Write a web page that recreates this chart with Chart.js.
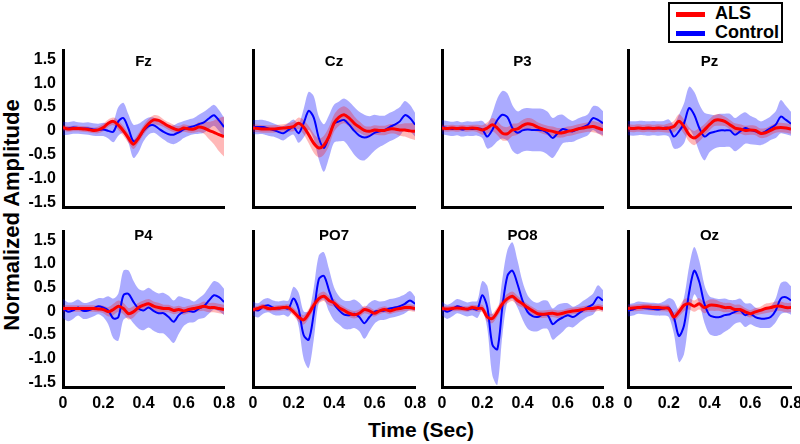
<!DOCTYPE html>
<html>
<head>
<meta charset="utf-8">
<script src="https://cdn.jsdelivr.net/npm/chart.js@4.4.1/dist/chart.umd.min.js"></script>
<style>
  body { margin: 0; background: #fff; }
  #wrap { position: relative; width: 800px; height: 444px; overflow: hidden;
          font-family: "Liberation Sans", Arial, sans-serif; font-weight: bold; color: #000; }
  #wrap canvas { position: absolute; }
  #ylab { position: absolute; left: 12px; top: 215px; font-size: 22px; white-space: nowrap;
          transform: translate(-50%, -50%) rotate(-90deg); }
  #xlab { position: absolute; left: 421px; top: 430px; font-size: 21px; white-space: nowrap;
          transform: translate(-50%, -50%); }
  #legend { position: absolute; left: 668px; top: 2px; width: 111px; height: 37px;
            border: 2px solid #000; background: #fff; font-size: 18px; }
  #legend .item { height: 19px; line-height: 19px; white-space: nowrap; }
  #legend .swatch { display: inline-block; width: 29px; height: 5px; margin: 0 10px 0 6px;
                    vertical-align: middle; }
</style>
</head>
<body>
<div id="wrap">
  <div id="ylab">Normalized Amplitude</div>
  <div id="xlab">Time (Sec)</div>
  <div id="legend">
    <div class="item"><span class="swatch" style="background:#ff0000"></span>ALS</div>
    <div class="item"><span class="swatch" style="background:#0000ff"></span>Control</div>
  </div>
</div>
<script>
/*************************
 DATA
**************************/
const time = [0, 0.025, 0.05, 0.075, 0.1, 0.125, 0.15, 0.175, 0.2, 0.225, 0.25,
  0.275, 0.3, 0.325, 0.35, 0.375, 0.4, 0.425, 0.45, 0.475, 0.5, 0.525,
  0.55, 0.575, 0.6, 0.625, 0.65, 0.675, 0.7, 0.725, 0.75, 0.775, 0.8];

const xTicks = [0, 0.2, 0.4, 0.6, 0.8];
const xTickLabels = ["0", "0.2", "0.4", "0.6", "0.8"];
const yTicks = [-1.5, -1, -0.5, 0, 0.5, 1, 1.5];
const yTickLabels = ["-1.5", "-1.0", "-0.5", "0", "0.5", "1.0", "1.5"];

const channels = ["Fz", "Cz", "P3", "Pz", "P4", "PO7", "PO8", "Oz"];

// Fz
const fzCtl = [0.05, 0.05, 0.07, 0.06, 0.05, 0.05, 0.03, 0.02, 0.03, 0.00, -0.02,
  0.20, 0.27, 0.05, -0.22, -0.15, 0.00, 0.10, 0.12, 0.05, -0.02, -0.07,
  -0.08, -0.03, 0.03, 0.07, 0.10, 0.14, 0.18, 0.26, 0.33, 0.22, 0.08];
const fzCtlSd = [0.14, 0.13, 0.13, 0.12, 0.12, 0.13, 0.13, 0.13, 0.14, 0.16, 0.22,
  0.30, 0.32, 0.30, 0.35, 0.30, 0.22, 0.18, 0.16, 0.15, 0.16, 0.18,
  0.20, 0.20, 0.18, 0.17, 0.17, 0.20, 0.22, 0.22, 0.22, 0.22, 0.20];
const fzAls = [0.07, 0.04, 0.05, 0.05, 0.04, 0.03, 0.01, 0.02, 0.07, 0.16, 0.20,
  0.12, 0.00, -0.15, -0.28, -0.15, 0.02, 0.15, 0.23, 0.22, 0.16, 0.10,
  0.05, 0.02, 0.06, 0.04, 0.04, 0.08, 0.06, 0.01, -0.03, -0.08, -0.12];
const fzAlsSd = [0.06, 0.06, 0.06, 0.06, 0.06, 0.06, 0.06, 0.07, 0.08, 0.08, 0.08,
  0.10, 0.10, 0.10, 0.10, 0.10, 0.10, 0.10, 0.10, 0.10, 0.08, 0.08,
  0.08, 0.08, 0.08, 0.08, 0.08, 0.10, 0.12, 0.18, 0.25, 0.35, 0.42];

// Cz
const czCtl = [0.08, 0.08, 0.08, 0.05, 0.02, -0.02, -0.05, 0.02, 0.08, -0.05, 0.16,
  0.42, 0.28, -0.15, -0.36, -0.12, 0.15, 0.20, 0.23, 0.13, 0.00, -0.10,
  -0.14, -0.11, -0.04, -0.01, 0.02, 0.08, 0.13, 0.20, 0.33, 0.27, 0.13];
const czCtlSd = [0.15, 0.15, 0.15, 0.15, 0.14, 0.14, 0.15, 0.15, 0.16, 0.20, 0.30,
  0.40, 0.45, 0.45, 0.50, 0.45, 0.40, 0.42, 0.45, 0.48, 0.50, 0.50,
  0.48, 0.42, 0.38, 0.33, 0.30, 0.30, 0.30, 0.30, 0.30, 0.28, 0.25];
const czAls = [0.06, 0.05, 0.04, 0.04, 0.04, 0.05, 0.06, 0.07, 0.09, 0.16, 0.08,
  -0.08, -0.26, -0.36, -0.30, -0.12, 0.16, 0.29, 0.34, 0.27, 0.16, 0.08,
  0.01, -0.01, 0.02, 0.01, 0.01, 0.04, 0.04, 0.02, 0.02, 0.00, -0.01];
const czAlsSd = [0.08, 0.08, 0.08, 0.08, 0.08, 0.08, 0.08, 0.09, 0.10, 0.12, 0.15,
  0.18, 0.20, 0.20, 0.20, 0.20, 0.18, 0.18, 0.18, 0.18, 0.15, 0.12,
  0.10, 0.10, 0.10, 0.10, 0.10, 0.10, 0.10, 0.12, 0.14, 0.16, 0.18];

// P3
const p3Ctl = [0.08, 0.06, 0.04, 0.06, 0.03, 0.05, 0.04, 0.05, 0.03, -0.12, 0.02,
  0.23, 0.34, 0.29, 0.06, -0.04, 0.01, 0.03, 0.02, 0.02, 0.01, -0.05,
  -0.15, -0.05, 0.04, 0.01, -0.01, 0.04, 0.08, 0.13, 0.27, 0.23, 0.16];
const p3CtlSd = [0.15, 0.15, 0.15, 0.15, 0.15, 0.15, 0.15, 0.15, 0.18, 0.25, 0.35,
  0.45, 0.50, 0.50, 0.48, 0.45, 0.45, 0.45, 0.45, 0.45, 0.45, 0.45,
  0.42, 0.38, 0.30, 0.25, 0.22, 0.22, 0.22, 0.22, 0.25, 0.28, 0.25];
const p3Als = [0.06, 0.05, 0.06, 0.05, 0.06, 0.05, 0.06, 0.05, 0.02, 0.06, 0.13,
  0.06, -0.05, -0.06, 0.02, 0.04, 0.11, 0.15, 0.13, 0.08, 0.04, 0.01,
  -0.01, -0.04, -0.04, -0.01, 0.01, 0.04, 0.06, 0.08, 0.09, 0.06, 0.02];
const p3AlsSd = [0.07, 0.07, 0.07, 0.07, 0.07, 0.07, 0.07, 0.08, 0.10, 0.12, 0.14,
  0.15, 0.15, 0.14, 0.13, 0.12, 0.12, 0.12, 0.12, 0.10, 0.10, 0.10,
  0.10, 0.10, 0.10, 0.10, 0.10, 0.10, 0.10, 0.10, 0.12, 0.12, 0.14];

// Pz
const pzCtl = [0.06, 0.05, 0.06, 0.06, 0.05, 0.06, 0.05, 0.06, 0.06, -0.12, -0.01,
  0.16, 0.48, 0.34, 0.06, -0.12, -0.05, -0.02, 0.01, 0.01, 0.01, -0.08,
  -0.01, 0.06, 0.02, -0.01, -0.05, -0.01, 0.06, 0.13, 0.30, 0.23, 0.15];
const pzCtlSd = [0.15, 0.15, 0.15, 0.15, 0.15, 0.15, 0.15, 0.15, 0.18, 0.25, 0.35,
  0.42, 0.45, 0.48, 0.50, 0.50, 0.40, 0.35, 0.35, 0.35, 0.35, 0.35,
  0.35, 0.33, 0.30, 0.28, 0.25, 0.25, 0.25, 0.28, 0.35, 0.30, 0.25];
const pzAls = [0.06, 0.05, 0.06, 0.05, 0.06, 0.05, 0.06, 0.05, 0.06, 0.09, 0.20,
  0.09, -0.08, -0.15, -0.08, 0.02, 0.13, 0.22, 0.23, 0.20, 0.13, 0.06,
  0.04, 0.01, 0.02, 0.01, -0.05, -0.04, 0.01, 0.06, 0.07, 0.06, 0.04];
const pzAlsSd = [0.08, 0.08, 0.08, 0.08, 0.08, 0.08, 0.08, 0.08, 0.10, 0.12, 0.15,
  0.15, 0.15, 0.15, 0.14, 0.12, 0.12, 0.12, 0.12, 0.10, 0.10, 0.10,
  0.10, 0.10, 0.10, 0.10, 0.10, 0.10, 0.10, 0.10, 0.10, 0.10, 0.10];

// P4
const p4Ctl = [0.06, -0.01, 0.02, 0.08, 0.01, 0.02, 0.06, 0.11, 0.08, 0.02, -0.15,
  -0.12, 0.34, 0.37, 0.20, 0.06, 0.02, 0.08, 0.01, -0.04, -0.04, -0.12,
  -0.22, -0.08, -0.01, 0.01, -0.01, 0.06, 0.11, 0.23, 0.34, 0.30, 0.20];
const p4CtlSd = [0.20, 0.20, 0.18, 0.17, 0.17, 0.17, 0.17, 0.17, 0.20, 0.30, 0.42,
  0.50, 0.52, 0.50, 0.45, 0.42, 0.42, 0.42, 0.42, 0.42, 0.43, 0.45,
  0.45, 0.40, 0.30, 0.25, 0.22, 0.22, 0.25, 0.28, 0.30, 0.30, 0.28];
const p4Als = [0.06, 0.06, 0.06, 0.06, 0.06, 0.06, 0.06, 0.05, 0.04, -0.01, 0.04,
  0.11, 0.06, -0.05, -0.01, 0.08, 0.13, 0.16, 0.11, 0.08, 0.06, 0.06,
  0.02, 0.04, 0.01, 0.04, 0.06, 0.08, 0.11, 0.08, 0.08, 0.06, 0.04];
const p4AlsSd = [0.07, 0.07, 0.07, 0.07, 0.07, 0.07, 0.07, 0.07, 0.08, 0.10, 0.12,
  0.12, 0.12, 0.12, 0.12, 0.10, 0.10, 0.10, 0.10, 0.10, 0.08, 0.08,
  0.08, 0.08, 0.08, 0.08, 0.08, 0.08, 0.10, 0.10, 0.10, 0.10, 0.10];

// PO7
const po7Ctl = [0.06, 0.02, 0.10, 0.13, 0.08, 0.06, 0.08, 0.06, 0.27, 0.05, -0.50,
  -0.60, -0.05, 0.68, 0.75, 0.45, 0.16, 0.02, -0.07, -0.08, -0.05, -0.12,
  -0.25, -0.12, -0.01, 0.01, 0.02, 0.06, 0.08, 0.11, 0.16, 0.23, 0.16];
const po7CtlSd = [0.15, 0.15, 0.15, 0.15, 0.15, 0.15, 0.15, 0.17, 0.25, 0.35, 0.50,
  0.60, 0.55, 0.50, 0.50, 0.45, 0.35, 0.30, 0.30, 0.30, 0.30, 0.30,
  0.33, 0.30, 0.25, 0.20, 0.20, 0.20, 0.20, 0.20, 0.20, 0.20, 0.15];
const po7Als = [0.04, 0.06, 0.10, 0.06, 0.06, 0.07, 0.08, 0.08, -0.01, -0.12, -0.18,
  -0.05, 0.13, 0.27, 0.32, 0.23, 0.18, 0.08, 0.02, -0.04, -0.07, -0.04,
  0.04, 0.01, -0.04, 0.01, 0.04, 0.01, 0.04, 0.06, 0.08, 0.08, 0.06];
const po7AlsSd = [0.06, 0.06, 0.06, 0.06, 0.06, 0.06, 0.06, 0.07, 0.08, 0.10, 0.10,
  0.10, 0.10, 0.10, 0.10, 0.10, 0.08, 0.08, 0.08, 0.08, 0.08, 0.08,
  0.08, 0.08, 0.07, 0.07, 0.07, 0.07, 0.07, 0.07, 0.07, 0.07, 0.07];

// PO8
const po8Ctl = [0.06, -0.01, 0.04, 0.11, 0.08, 0.04, 0.06, 0.04, 0.34, 0.09, -0.70,
  -0.80, 0.09, 0.75, 0.86, 0.58, 0.23, -0.01, -0.10, -0.12, -0.07, -0.08,
  -0.27, -0.19, -0.13, -0.08, -0.12, -0.06, 0.02, 0.09, 0.15, 0.30, 0.23];
const po8CtlSd = [0.15, 0.15, 0.15, 0.15, 0.15, 0.15, 0.15, 0.18, 0.30, 0.45, 0.65,
  0.75, 0.60, 0.55, 0.60, 0.50, 0.40, 0.35, 0.32, 0.30, 0.30, 0.30,
  0.33, 0.33, 0.30, 0.25, 0.22, 0.20, 0.20, 0.20, 0.22, 0.25, 0.22];
const po8Als = [0.06, 0.05, 0.06, 0.07, 0.06, 0.05, 0.08, 0.06, 0.06, -0.12, -0.15,
  -0.01, 0.16, 0.27, 0.32, 0.23, 0.16, 0.08, 0.01, -0.05, -0.06, -0.05,
  -0.04, -0.06, -0.04, -0.01, 0.01, 0.02, 0.04, 0.06, 0.06, 0.08, 0.06];
const po8AlsSd = [0.06, 0.06, 0.06, 0.06, 0.06, 0.06, 0.06, 0.07, 0.08, 0.10, 0.10,
  0.10, 0.10, 0.10, 0.10, 0.10, 0.08, 0.08, 0.08, 0.08, 0.08, 0.08,
  0.08, 0.08, 0.07, 0.07, 0.07, 0.07, 0.07, 0.07, 0.07, 0.07, 0.07];

// Oz
const ozCtl = [0.02, 0.04, 0.08, 0.07, 0.06, 0.05, 0.04, 0.06, 0.08, -0.12, -0.52,
  -0.30, 0.40, 0.86, 0.62, 0.16, -0.08, -0.12, -0.12, -0.08, -0.06, -0.01,
  0.02, -0.08, -0.05, -0.12, -0.15, -0.15, -0.12, 0.02, 0.27, 0.30, 0.23];
const ozCtlSd = [0.13, 0.13, 0.13, 0.13, 0.13, 0.13, 0.13, 0.15, 0.20, 0.35, 0.55,
  0.60, 0.55, 0.50, 0.45, 0.40, 0.40, 0.40, 0.38, 0.35, 0.30, 0.25,
  0.25, 0.25, 0.22, 0.20, 0.20, 0.20, 0.22, 0.25, 0.33, 0.33, 0.30];
const ozAls = [0.06, 0.07, 0.08, 0.09, 0.09, 0.08, 0.08, 0.07, 0.06, -0.12, -0.01,
  0.13, 0.16, 0.11, 0.16, 0.08, 0.13, 0.13, 0.11, 0.08, 0.08, 0.04,
  0.04, -0.01, -0.05, -0.01, 0.02, 0.06, 0.08, 0.11, 0.11, 0.08, 0.08];
const ozAlsSd = [0.07, 0.07, 0.07, 0.07, 0.07, 0.07, 0.07, 0.07, 0.08, 0.10, 0.10,
  0.12, 0.12, 0.12, 0.12, 0.12, 0.12, 0.12, 0.10, 0.10, 0.10, 0.10,
  0.10, 0.08, 0.08, 0.08, 0.08, 0.10, 0.10, 0.10, 0.10, 0.10, 0.10];

const panels = [
  { ctl: fzCtl, ctlSd: fzCtlSd, als: fzAls, alsSd: fzAlsSd },
  { ctl: czCtl, ctlSd: czCtlSd, als: czAls, alsSd: czAlsSd },
  { ctl: p3Ctl, ctlSd: p3CtlSd, als: p3Als, alsSd: p3AlsSd },
  { ctl: pzCtl, ctlSd: pzCtlSd, als: pzAls, alsSd: pzAlsSd },
  { ctl: p4Ctl, ctlSd: p4CtlSd, als: p4Als, alsSd: p4AlsSd },
  { ctl: po7Ctl, ctlSd: po7CtlSd, als: po7Als, alsSd: po7AlsSd },
  { ctl: po8Ctl, ctlSd: po8CtlSd, als: po8Als, alsSd: po8AlsSd },
  { ctl: ozCtl, ctlSd: ozCtlSd, als: ozAls, alsSd: ozAlsSd }
];

/*************************
 LAYOUT (pixel grid of the panels)
**************************/
const colLeft = [63, 253, 442, 628];
const colRight = [224, 415, 603, 791];
const rowTop = [50, 231];
const rowBottom = [207, 387];
const titleOffset = [12, 5];
const PAD_RIGHT = 14;

const FONT = '"Liberation Sans", Arial, sans-serif';
Chart.defaults.font.family = FONT;
Chart.defaults.color = "#000";

/*************************
 PANEL TITLE (inside plot area)
**************************/
const panelTitle = {
  id: "panelTitle",
  afterDraw(chart, args, opts) {
    const { ctx, chartArea } = chart;
    ctx.save();
    ctx.font = "bold 15px " + FONT;
    ctx.fillStyle = "#000";
    ctx.textAlign = "center";
    ctx.textBaseline = "middle";
    ctx.fillText(opts.text, (chartArea.left + chartArea.right) / 2, chartArea.top + opts.offset);
    ctx.restore();
  }
};

function band(mean, sd, sign) {
  return mean.map((m, k) => +(m + sign * sd[k]).toFixed(3));
}

function noPad(s) {
  s.paddingLeft = 0;
  s.paddingRight = 0;
  s.paddingTop = 0;
  s.paddingBottom = 0;
}

/*************************
 BUILD ONE PANEL
**************************/
function makePanel(p, i) {
  const col = i % 4;
  const row = Math.floor(i / 4);
  const yw = col === 0 ? 63 : 10;
  const xh = row === 1 ? 32 : 6;
  const left = colLeft[col] - yw;
  const top = rowTop[row] - 8;
  const width = colRight[col] - left + PAD_RIGHT;
  const height = rowBottom[row] - top + xh;

  const canvas = document.createElement("canvas");
  canvas.width = width;
  canvas.height = height;
  canvas.style.left = left + "px";
  canvas.style.top = top + "px";
  document.getElementById("wrap").appendChild(canvas);

  const lineBase = { pointRadius: 0, tension: 0.3 };
  const bandBase = { pointRadius: 0, tension: 0.3, borderWidth: 0, borderColor: "transparent" };

  new Chart(canvas, {
    type: "line",
    data: {
      labels: time,
      datasets: [
        { ...lineBase, data: p.als, borderColor: "#ff0000", borderWidth: 3, fill: false },
        { ...lineBase, data: p.ctl, borderColor: "#0000ff", borderWidth: 2, fill: false },
        { ...bandBase, data: band(p.als, p.alsSd, 1), backgroundColor: "rgba(255,0,0,0.28)", fill: "+1" },
        { ...bandBase, data: band(p.als, p.alsSd, -1), fill: false },
        { ...bandBase, data: band(p.ctl, p.ctlSd, 1), backgroundColor: "rgba(0,0,255,0.33)", fill: "+1" },
        { ...bandBase, data: band(p.ctl, p.ctlSd, -1), fill: false }
      ]
    },
    options: {
      responsive: false,
      maintainAspectRatio: false,
      animation: false,
      layout: { autoPadding: false, padding: { top: 8, right: PAD_RIGHT, left: 0, bottom: 0 } },
      plugins: {
        legend: { display: false },
        tooltip: { enabled: false },
        panelTitle: { text: channels[i], offset: titleOffset[row] }
      },
      scales: {
        x: {
          type: "linear",
          min: 0,
          max: 0.8,
          grid: { display: false, drawTicks: false },
          border: { display: true, color: "#000", width: 3 },
          afterBuildTicks: (s) => { s.ticks = xTicks.map(v => ({ value: v })); },
          afterFit: (s) => { s.height = xh; noPad(s); },
          ticks: {
            display: row === 1,
            autoSkip: false,
            maxRotation: 0,
            padding: 7,
            font: { size: 16, weight: "bold" },
            callback: (v, k) => xTickLabels[k]
          }
        },
        y: {
          min: -1.6,
          max: 1.7,
          grid: { display: false, drawTicks: false },
          border: { display: true, color: "#000", width: 3 },
          afterBuildTicks: (s) => { s.ticks = yTicks.map(v => ({ value: v })); },
          afterFit: (s) => { s.width = yw; noPad(s); },
          ticks: {
            display: col === 0,
            autoSkip: false,
            padding: 7,
            font: { size: 16, weight: "bold" },
            callback: (v, k) => yTickLabels[k]
          }
        }
      }
    },
    plugins: [panelTitle]
  });
}

panels.forEach(makePanel);
</script>
</body>
</html>
